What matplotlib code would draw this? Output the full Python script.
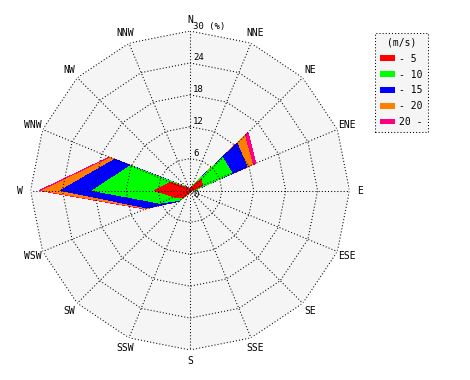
import numpy as np
import matplotlib
matplotlib.use("Agg")
import matplotlib.pyplot as plt
from matplotlib.patches import Patch

# ---- data ----
directions = ['N', 'NNE', 'NE', 'ENE', 'E', 'ESE', 'SE', 'SSE',
              'S', 'SSW', 'SW', 'WSW', 'W', 'WNW', 'NW', 'NNW']
speed_labels = ['- 5', '- 10', '- 15', '- 20', '20 -']
colors = ['#ff0000', '#00ff00', '#0000ff', '#ff8000', '#ff0080']
# frequency (%) per direction for each speed class
s5 = [0.3, 0.6, 3.0, 2.5, 0.5, 0.3, 0.2, 0.2, 0.3, 0.5, 2.0, 3.2, 6.7, 4.0, 0.6, 0.3]
s10 = [0.0, 0.2, 5.7, 6.0, 0.3, 0.0, 0.0, 0.0, 0.0, 0.1, 0.6, 3.0, 11.6, 8.1, 0.2, 0.0]
s15 = [0.0, 0.0, 3.8, 3.1, 0.0, 0.0, 0.0, 0.0, 0.0, 0.0, 0.2, 2.4, 6.0, 3.2, 0.1, 0.0]
s20 = [0.0, 0.0, 2.0, 1.1, 0.0, 0.0, 0.0, 0.0, 0.0, 0.0, 0.0, 0.3, 3.4, 0.8, 0.0, 0.0]
s20p = [0.0, 0.0, 0.9, 0.7, 0.0, 0.0, 0.0, 0.0, 0.0, 0.0, 0.0, 0.2, 0.6, 0.3, 0.0, 0.0]
rings = [6, 12, 18, 24, 30]
rmax = 30

plt.rcParams['font.family'] = ['DejaVu Sans Mono']

W, H = 470, 380
fig = plt.figure(figsize=(W / 100, H / 100), dpi=100)
fig.patch.set_facecolor('white')

cx, cy, R = 190, 190.5, 159.5
ax = fig.add_axes([(cx - R) / W, (H - cy - R) / H, 2 * R / W, 2 * R / H],
                  projection='polar')
ax.set_theta_zero_location('N')
ax.set_theta_direction(-1)
ax.set_ylim(0, rmax)
ax.grid(False)
ax.set_xticks([])
ax.set_yticks([])
ax.spines['polar'].set_visible(False)
ax.patch.set_visible(False)

n = len(directions)
theta = np.arange(n) * 2 * np.pi / n
th_closed = np.append(theta, theta[0])

# background 16-gon
ax.fill(th_closed, np.full(n + 1, rmax), color='#f5f5f5', zorder=0, lw=0)

# stacked area rose
series = [s5, s10, s15, s20, s20p]
cum = np.cumsum(np.array(series), axis=0)
for i in range(len(series) - 1, -1, -1):
    r = np.append(cum[i], cum[i][0])
    ax.fill(th_closed, r, color=colors[i], lw=0, zorder=1 + (len(series) - i),
            antialiased=False)

# polygon grid
dash = (0, (1, 2))
for rv in rings:
    ax.plot(th_closed, np.full(n + 1, rv), color='black', lw=0.75,
            linestyle=dash, zorder=10)
for t in theta:
    ax.plot([t, t], [0, rmax], color='black', lw=0.75, linestyle=dash, zorder=10)

# ring labels
for rv in rings:
    txt = '30 (%)' if rv == rmax else str(rv)
    ax.annotate(txt, xy=(0, rv), xytext=(3, 0.5), textcoords='offset pixels',
                ha='left', va='bottom', fontsize=6.5, zorder=11,
                annotation_clip=False)
ax.annotate('0', xy=(0, 0), xytext=(3, -4), textcoords='offset pixels',
            ha='left', va='center', fontsize=6.5, zorder=11, annotation_clip=False)

# direction labels
for t, d in zip(theta, directions):
    ax.text(t, 32.0, d, ha='center', va='center', fontsize=7, clip_on=False)

# legend
handles = [Patch(facecolor=c, edgecolor='none') for c in colors]
leg = fig.legend(handles, speed_labels, title='(m/s)', loc='upper left',
                 bbox_to_anchor=(375 / W, 1 - 33 / H), fontsize=7,
                 title_fontsize=7, handlelength=1.6, handleheight=0.5,
                 handletextpad=0.4, labelspacing=0.6, borderpad=0.5,
                 borderaxespad=0, fancybox=False, framealpha=1)
frame = leg.get_frame()
frame.set_facecolor('#f5f5f5')
frame.set_edgecolor('black')
frame.set_linestyle((0, (1, 2)))
frame.set_linewidth(0.75)

fig.savefig('out.png', dpi=100)
